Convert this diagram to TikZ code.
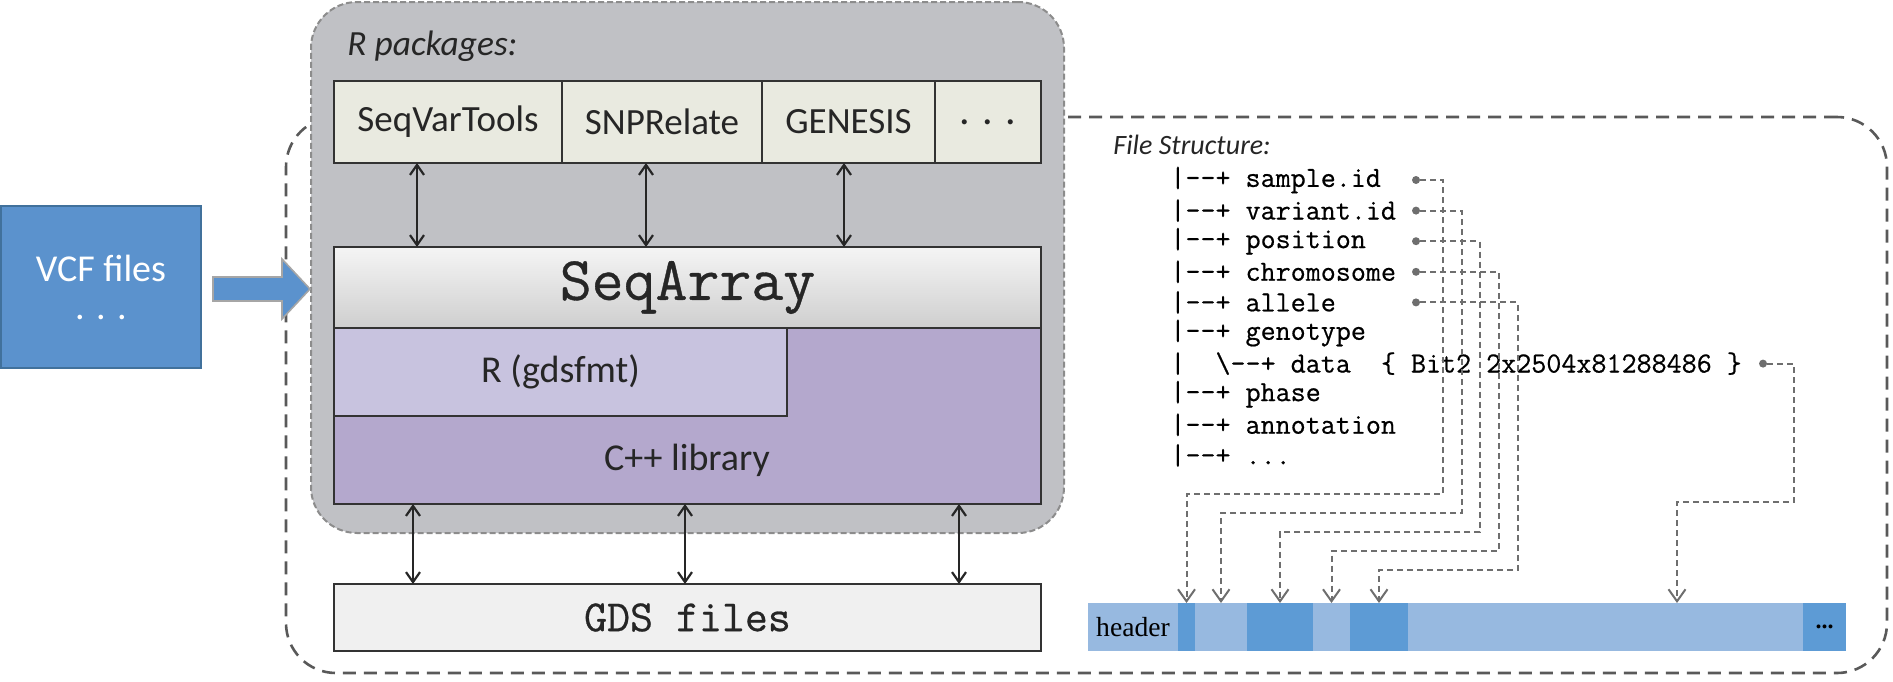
\documentclass[tikz,border=0pt]{standalone}
\usepackage{fontspec}
\setmainfont{Carlito}
\setmonofont{Latin Modern Mono}[FakeBold=0.6]
\newfontfamily\hdrfont{Liberation Serif}
\usetikzlibrary{arrows.meta,positioning}

\definecolor{vcfblue}{RGB}{91,146,205}
\definecolor{vcfedge}{RGB}{65,113,156}
\definecolor{boxgray}{RGB}{192,193,197}
\definecolor{pkgfill}{RGB}{233,234,224}
\definecolor{rfill}{RGB}{200,195,223}
\definecolor{cppfill}{RGB}{180,168,205}
\definecolor{gdsfill}{RGB}{240,240,240}
\definecolor{barlight}{RGB}{151,185,224}
\definecolor{bardark}{RGB}{93,155,213}
\definecolor{inkgray}{RGB}{110,110,110}

\begin{document}
\begin{tikzpicture}[x=0.5pt,y=-0.5pt,
  layer/.style={draw=black!80, line width=0.9pt, inner sep=0pt, outer sep=0pt, text=black!85},
  pkg/.style={layer, fill=pkgfill, minimum height=41pt, font=\fontsize{18.5}{20}\selectfont},
  link/.style={{Straight Barb[length=5pt,width=7pt]}-{Straight Barb[length=5pt,width=7pt]}, line width=1.1pt, black!85},
  tree/.style={anchor=west, inner sep=0pt, font=\ttfamily\fontsize{14.6}{16}\selectfont},
  ptr/.style={draw=inkgray, dash pattern=on 3pt off 2pt, line width=1pt, -{Straight Barb[length=6pt,width=8.5pt]}},
  dot/.style={circle, fill=inkgray, inner sep=0pt, minimum size=4pt},
  seg/.style={inner sep=0pt, outer sep=0pt, minimum height=24pt}]
\useasboundingbox (0,0) rectangle (1893,681);

% dashed frame of the file
\node[draw=black!65, dash pattern=on 6.5pt off 4pt, line width=1.3pt, rounded corners=25pt,
  minimum width=800.5pt, minimum height=278pt] (filebox) at (1086.5,395) {};

% R packages container
\node[fill=boxgray, draw=black!45, dash pattern=on 3pt off 1.5pt, line width=1pt, rounded corners=23pt,
  minimum width=376.5pt, minimum height=265.5pt] (rpkg) at (687.5,267.5) {};
\node[anchor=west, inner sep=0pt, font=\itshape\fontsize{17.7}{20}\selectfont, text=black!85] (rpkglbl) at (347,46) {R packages:};

\node[pkg, minimum width=114pt] (svt) at (448,122) {SeqVarTools};
\node[pkg, minimum width=100pt] (snp) at (662,122) {SNPRelate};
\node[pkg, minimum width=86.5pt] (gen) at (848.5,122) {GENESIS};
\node[pkg, minimum width=53pt, font=\fontsize{21}{22}\selectfont] (more) at (988,122) {. . .};

\node[layer, top color=gray!8, bottom color=gray!38, minimum width=353.5pt, minimum height=40.5pt,
  font=\ttfamily\fontsize{31}{34}\selectfont] (seqarray) at (687.5,287.5) {SeqArray};
\node[layer, fill=cppfill, minimum width=353.5pt, minimum height=88pt] (cpp) at (687.5,416) {};
\node[layer, fill=rfill, minimum width=226.5pt, minimum height=44pt,
  font=\fontsize{19}{21}\selectfont] (gdsfmt) at (560.5,372) {R (gdsfmt)};
\node[font=\fontsize{19}{21}\selectfont, text=black!85] (cpplbl) at (687,460) {C++ library};

\node[layer, fill=gdsfill, minimum width=353.5pt, minimum height=33.5pt,
  font=\ttfamily\fontsize{22.3}{24}\selectfont] (gds) at (687.5,617.5) {GDS files};

% double arrows
\coordinate (a1) at (417,0);
\coordinate (a2) at (646,0);
\coordinate (a3) at (844,0);
\coordinate (b1) at (413,0);
\coordinate (b2) at (685,0);
\coordinate (b3) at (959,0);
\draw[link] (svt.south -| a1) -- (seqarray.north -| a1);
\draw[link] (snp.south -| a2) -- (seqarray.north -| a2);
\draw[link] (gen.south -| a3) -- (seqarray.north -| a3);
\draw[link] (cpp.south -| b1) -- (gds.north -| b1);
\draw[link] (cpp.south -| b2) -- (gds.north -| b2);
\draw[link] (cpp.south -| b3) -- (gds.north -| b3);

% input files
\node[fill=vcfblue, draw=vcfedge, line width=1pt, minimum width=100pt, minimum height=81pt] (vcf) at (101,287) {};
\node[anchor=base, text=white, font=\fontsize{19}{21}\selectfont] (vcflbl) at (101,281) {VCF files};
\node[anchor=base, text=white, font=\fontsize{19}{21}\selectfont] (vcfdots) at (101,319) {. . .};
\draw[fill=vcfblue, draw=gray!70, line width=0.8pt] (213,277) -- (282,277) -- (282,259) -- (310,289)
  -- (282,319) -- (282,301) -- (213,301) -- cycle;

% file structure
\node[anchor=west, inner sep=0pt, font=\itshape\fontsize{14}{16}\selectfont, text=black!85] (fslbl) at (1113,145) {File Structure:};
\foreach \i/\txt in {1/{|--+ sample.id}, 2/{|--+ variant.id}, 3/{|--+ position},
    4/{|--+ chromosome}, 5/{|--+ allele}, 6/{|--+ genotype},
    7/{|\ \ \textbackslash--+ data\ \ \{ Bit2 2x2504x81288486 \}},
    8/{|--+ phase}, 9/{|--+ annotation}, 10/{|--+ ...}}
  \node[tree] (t\i) at (1170,{180+30.6*(\i-1)}) {\txt};

\node[dot] (d1) at (1416,180) {};
\node[dot] (d2) at (1416,210.6) {};
\node[dot] (d3) at (1416,241.2) {};
\node[dot] (d4) at (1416,271.8) {};
\node[dot] (d5) at (1416,302.4) {};
\node[dot] (d6) at (1763,363.6) {};

% the bar
\node[seg, fill=barlight, minimum width=45pt, font=\hdrfont\fontsize{13.8}{15}\selectfont] (s1) at (1133,627) {header};
\node[seg, fill=bardark, minimum width=8.5pt] (s2) [right=0pt of s1] {};
\node[seg, fill=barlight, minimum width=26pt] (s3) [right=0pt of s2] {};
\node[seg, fill=bardark, minimum width=33pt] (s4) [right=0pt of s3] {};
\node[seg, fill=barlight, minimum width=18.5pt] (s5) [right=0pt of s4] {};
\node[seg, fill=bardark, minimum width=29pt] (s6) [right=0pt of s5] {};
\node[seg, fill=barlight, minimum width=197.5pt] (s7) [right=0pt of s6] {};
\node[seg, fill=bardark, minimum width=21.5pt, font=\hdrfont\bfseries\fontsize{12}{14}\selectfont] (s8) [right=0pt of s7] {...};

\coordinate (c6) at (1677,0);
\draw[ptr] (d1) -| (1443,494) -| (s2.north);
\draw[ptr] (d2) -| (1462,513) -| (s3.north);
\draw[ptr] (d3) -| (1480,532) -| (s4.north);
\draw[ptr] (d4) -| (1499,551) -| (s5.north);
\draw[ptr] (d5) -| (1518,570) -| (s6.north);
\draw[ptr] (d6) -| (1794,502) -| (s7.north -| c6);
\end{tikzpicture}
\end{document}
